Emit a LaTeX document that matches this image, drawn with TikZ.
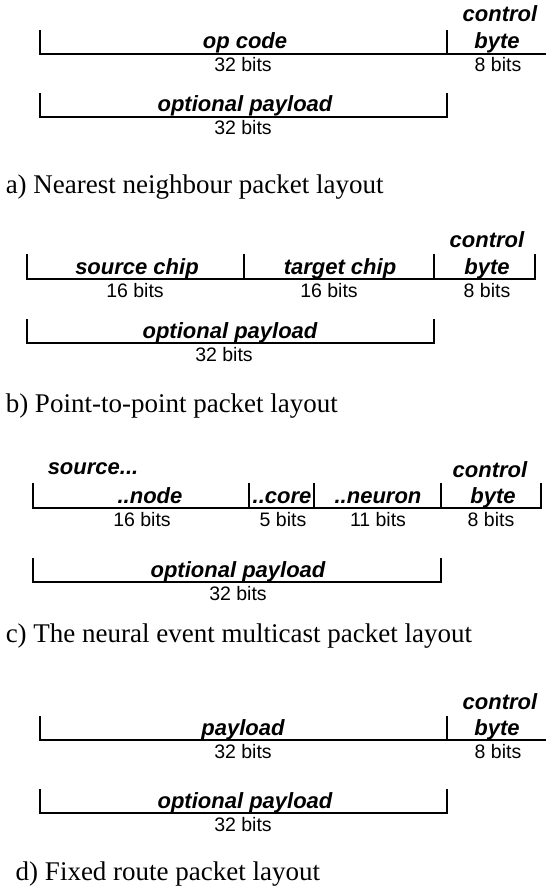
\documentclass[tikz,border=0pt]{standalone}
\usepackage{fontspec}
\setmainfont{Liberation Serif}
\setsansfont{Liberation Sans}
\begin{document}
\begin{tikzpicture}[x=1pt, y=-1pt, line width=1.5pt,
  field/.style={font=\fontsize{22}{22}\selectfont\sffamily\bfseries\itshape, anchor=base, inner sep=0pt},
  bits/.style={font=\fontsize{19.5}{19.5}\selectfont\sffamily, anchor=base, inner sep=0pt},
  caption/.style={font=\fontsize{27}{27}\selectfont\rmfamily, anchor=base west, inner sep=0pt}]
\useasboundingbox (0,0) rectangle (546,890);

% a) nearest neighbour
\draw (40,30) -- (40,54) -- (546,54);
\draw (447,30) -- (447,54);
\node (opcode) [field] at (245,49) {op code};
\node (ctrla) [field] at (500,22) {control};
\node (bytea) [field] at (497,49) {byte};
\node (bitsaa) [bits] at (243,72) {32 bits};
\node (bitsab) [bits] at (498,72) {8 bits};
\draw (40,93) -- (40,117) -- (447,117) -- (447,93);
\node (opta) [field] at (245,112) {optional payload};
\node (bitsac) [bits] at (243,135) {32 bits};
\node (capa) [caption] at (5,194) {a) Nearest neighbour packet layout};

% b) point-to-point
\draw (27,254) -- (27,279) -- (535,279) -- (535,254);
\draw (244,254) -- (244,279);
\draw (434,254) -- (434,279);
\node (ctrlb) [field] at (487,248) {control};
\node (srcchip) [field] at (137,274) {source chip};
\node (tgtchip) [field] at (340,274) {target chip};
\node (byteb) [field] at (487,274) {byte};
\node (bitsba) [bits] at (135,297) {16 bits};
\node (bitsbb) [bits] at (329,297) {16 bits};
\node (bitsbc) [bits] at (487,297) {8 bits};
\draw (27,319) -- (27,343) -- (434,343) -- (434,319);
\node (optb) [field] at (230,338) {optional payload};
\node (bitsbd) [bits] at (224,361) {32 bits};
\node (capb) [caption] at (5,412) {b) Point-to-point packet layout};

% c) multicast
\draw (33,483) -- (33,508) -- (541,508) -- (541,483);
\draw (249,483) -- (249,508);
\draw (314,483) -- (314,508);
\draw (441,483) -- (441,508);
\node (source) [field, anchor=base west] at (47,474) {source...};
\node (ctrlc) [field] at (490,477) {control};
\node (srcnode) [field] at (150,503) {..node};
\node (srccore) [field] at (282,503) {..core};
\node (srcneuron) [field] at (378,503) {..neuron};
\node (bytec) [field] at (493,503) {byte};
\node (bitsca) [bits] at (142,526) {16 bits};
\node (bitscb) [bits] at (283,526) {5 bits};
\node (bitscc) [bits] at (378,526) {11 bits};
\node (bitscd) [bits] at (491,526) {8 bits};
\draw (33,558) -- (33,582) -- (441,582) -- (441,558);
\node (optc) [field] at (238,577) {optional payload};
\node (bitsce) [bits] at (238,600) {32 bits};
\node (capc) [caption] at (5,642) {c) The neural event multicast packet layout};

% d) fixed route
\draw (40,716) -- (40,740) -- (546,740);
\draw (447,716) -- (447,740);
\node (ctrld) [field] at (500,709) {control};
\node (payload) [field] at (243,735) {payload};
\node (byted) [field] at (497,735) {byte};
\node (bitsda) [bits] at (243,758) {32 bits};
\node (bitsdb) [bits] at (498,758) {8 bits};
\draw (40,789) -- (40,813) -- (447,813) -- (447,789);
\node (optd) [field] at (245,808) {optional payload};
\node (bitsdc) [bits] at (243,831) {32 bits};
\node (capd) [caption] at (15,880) {d) Fixed route packet layout};
\end{tikzpicture}
\end{document}
